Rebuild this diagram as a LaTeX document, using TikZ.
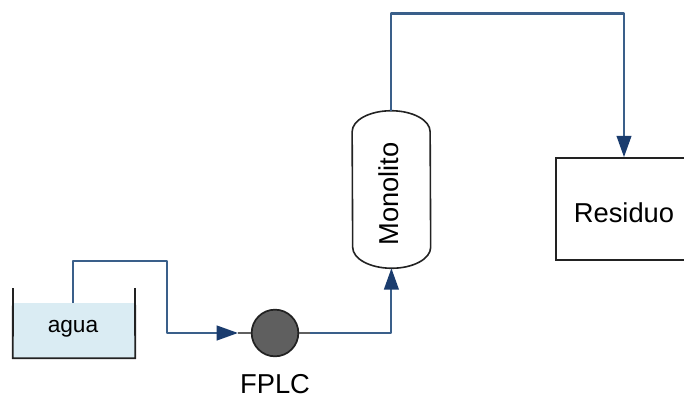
\documentclass[tikz,border=0pt]{standalone}
\usepackage{xcolor}
\usepackage{fontspec}
\setmainfont{Liberation Sans}
\usetikzlibrary{arrows.meta}
\definecolor{pipecol}{HTML}{3A5F8A}
\definecolor{tipcol}{HTML}{1A3C6E}
\definecolor{watercol}{HTML}{DAECF3}
\definecolor{pumpcol}{HTML}{5F5F5F}
\definecolor{edgecol}{HTML}{222222}

\begin{document}
\begin{tikzpicture}[x=0.75pt,y=-0.75pt,font=\fontsize{20.5}{24}\selectfont,
  pipe/.style={draw=pipecol,line width=1.6pt,line join=round},
  ar/.style={pipe,-{Triangle[length=16pt,width=11pt,fill=tipcol,color=tipcol]}},
  stub/.style={draw=pumpcol,line width=1.6pt},
  wall/.style={draw=edgecol,line width=1.4pt,line join=round},
  water/.style={fill=watercol,inner sep=0pt,minimum width=91.5pt,minimum height=41.25pt},
  pump/.style={circle,draw=edgecol,fill=pumpcol,line width=1.3pt,inner sep=0pt,minimum size=35pt},
  column/.style={inner sep=0pt,minimum width=58.5pt,minimum height=117.75pt},
  tankbox/.style={rectangle,draw=edgecol,line width=1.3pt,inner sep=0pt,minimum width=102pt,minimum height=76.5pt},
]
\useasboundingbox (0,0) rectangle (684,399);
\node[water] (agua) at (74,330.5) {};
\node[font=\fontsize{17}{20}\selectfont] (agualabel) at (73,329) {agua};
\coordinate (tl) at (13,288);
\coordinate (tr) at (135,288);
\draw[wall] (tl) -- (agua.south west) -- (agua.south east) -- (tr);
\node[pump] (fplc) at (275,333) {};
\node[inner sep=0pt] (fplclabel) at (275,384.5) {FPLC};
\node[column] (mono) at (391.4,189.5) {};
\draw[wall,line width=1.2pt] ([yshift=-15.75pt]mono.north west)
  arc[start angle=180,end angle=0,x radius=29.25pt,y radius=15.75pt]
  -- ([yshift=15.75pt]mono.south east)
  arc[start angle=0,end angle=-180,x radius=29.25pt,y radius=15.75pt] -- cycle;
\node[rotate=90] (monolabel) at (389,194) {Monolito};
\node[tankbox] (res) at (624,209) {};
\node (reslabel) at (624,213) {Residuo};
\coordinate (c1) at (73,261);
\coordinate (c2) at (167,261);
\coordinate (in) at (238,333);
\coordinate (out) at (310,333);
\coordinate (c3) at (391.4,13.5);
% feed line
\draw[ar] (73,303) -- (c1) -- (c2) |- (in);
\draw[stub] (in) -- (fplc.west);
\draw[stub] (fplc.east) -- (out);
\draw[ar] (out) -| (mono.south);
% outlet
\draw[ar] (mono.north) -- (c3) -| (res.north);
\end{tikzpicture}
\end{document}
